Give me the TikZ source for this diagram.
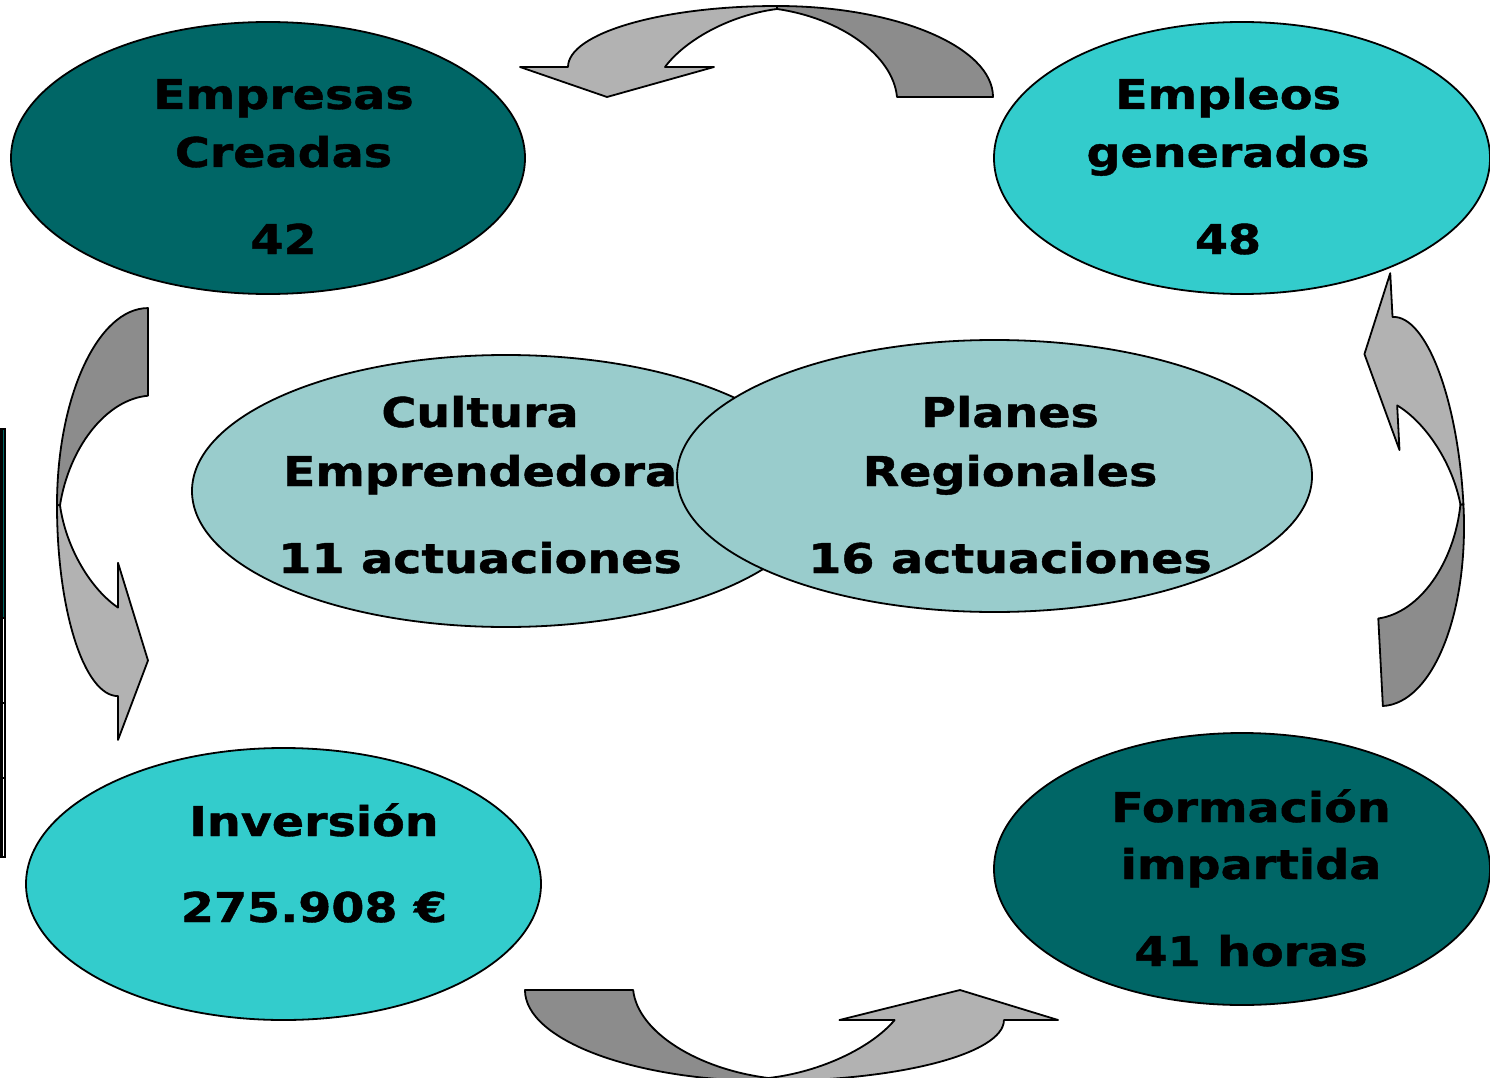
\documentclass[tikz,border=0pt]{standalone}
\usepackage{fontspec}
\setmainfont{DejaVu Sans}[BoldFeatures={FakeBold=1}]
\usetikzlibrary{shapes.geometric}
\definecolor{dteal}{HTML}{006666}
\definecolor{cteal}{HTML}{33CCCC}
\definecolor{lteal}{HTML}{99CCCC}
\definecolor{agl}{HTML}{B2B2B2}
\definecolor{agd}{HTML}{8C8C8C}
\tikzset{
  oval/.style={ellipse, draw=black, line width=1.8pt, inner sep=0pt},
  lbl/.style={font=\fontsize{41}{41}\selectfont\bfseries, inner sep=0pt, anchor=base, xscale=1.16, transform shape},
  band/.style={draw=black, line width=1.8pt, line join=round},
}
\newcommand{\uturnarrow}{%
    \path[band, fill=agd] (20.5,-45.5) .. controls (139.5,-45.5) and (236.5,-4.5) .. (236.5,45.5)
      -- (140.5,45.5) .. controls (136.5,3.5) and (83.5,-33.5) .. (20.5,-42.5) -- cycle;
    \path[band, fill=agl] (-188.5,15.5) .. controls (-188.5,-18.2) and (-94.9,-45.5) .. (20.5,-45.5)
      -- (20.5,-42.5) .. controls (-26.5,-36.5) and (-71.5,-11.5) .. (-91.5,15.5)
      -- (-42.5,15.5) -- (-149.5,45.5) -- (-236.5,15.5) -- cycle;
}
\begin{document}
\begin{tikzpicture}[x=1pt,y=-1pt]
\useasboundingbox (0,0) rectangle (1490,1078);
% left bar
\fill[dteal] (1.5,429) rectangle (5,618);
\draw[line width=2.5pt] (1.5,429) rectangle (5,857);
\draw[line width=2pt] (1.5,618) -- (5,618) (1.5,703) -- (5,703) (1.5,778) -- (5,778);
% ellipses
\node[oval, fill=dteal, minimum width=514pt, minimum height=272pt] (empresas) at (268,158) {};
\node[oval, fill=cteal, minimum width=496pt, minimum height=272pt] (empleos) at (1242,158) {};
\node[oval, fill=cteal, minimum width=515pt, minimum height=272pt] (inversion) at (283.5,884) {};
\node[oval, fill=dteal, minimum width=496pt, minimum height=272pt] (formacion) at (1242,869) {};
\node[oval, fill=lteal, minimum width=628pt, minimum height=272pt] (cultura) at (506,491) {};
\node[lbl] (c1) at (480,427) {Cultura};
\node[lbl] (c2) at (480,486) {Emprendedora};
\node[lbl] (c3) at (480,573) {11 actuaciones};
\node[oval, fill=lteal, minimum width=635pt, minimum height=272pt] (planes) at (994.5,476) {};
\node[lbl] (p1) at (1010,427) {Planes};
\node[lbl] (p2) at (1010,486) {Regionales};
\node[lbl] (p3) at (1010,573) {16 actuaciones};
% texts
\node[lbl] (e1) at (283.5,109) {Empresas};
\node[lbl] (e2) at (283.5,167) {Creadas};
\node[lbl] (e3) at (283.5,254) {42};
\node[lbl] (g1) at (1228,109) {Empleos};
\node[lbl] (g2) at (1228,167) {generados};
\node[lbl] (g3) at (1228,254) {48};
\node[lbl] (i1) at (314,836) {Inversión};
\node[lbl] (i2) at (314,922) {275.908 €};
\node[lbl] (f1) at (1251,822) {Formación};
\node[lbl] (f2) at (1251,879) {impartida};
\node[lbl] (f3) at (1251,966) {41 horas};
% curved arrows
\begin{scope}[shift={(756.5,51.5)}] \uturnarrow \end{scope}
\begin{scope}[shift={(791.5,1035.5)}, rotate=180, xscale=1.127] \uturnarrow \end{scope}
\begin{scope}[shift={(102.5,524)}, rotate=90, xscale=0.913] \uturnarrow \end{scope}
\begin{scope}[shift={(1417,488)}, rotate=273, xscale=0.913] \uturnarrow \end{scope}
\end{tikzpicture}
\end{document}
